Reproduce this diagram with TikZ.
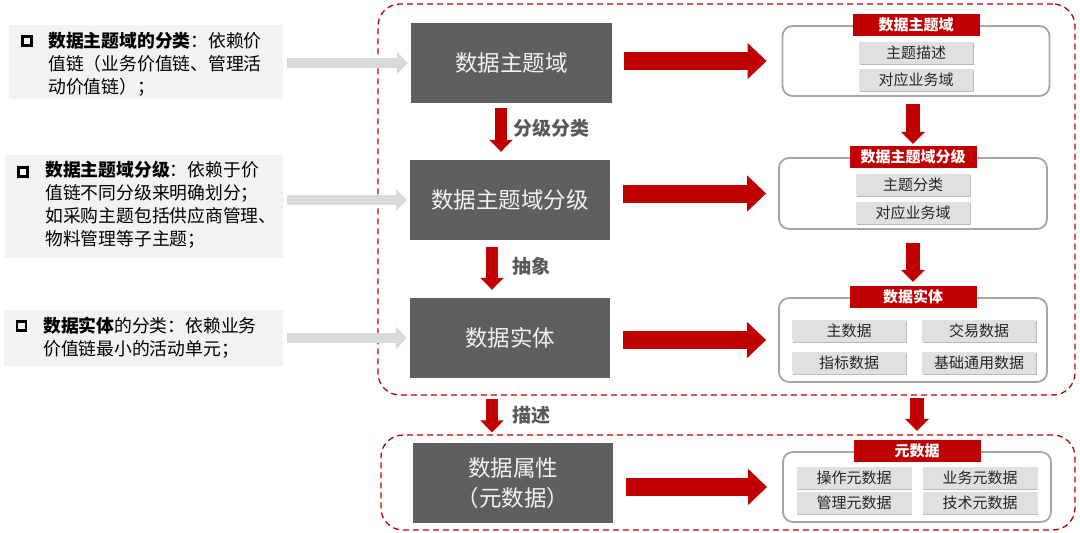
\documentclass[tikz,border=0pt]{standalone}
\usepackage{fontspec}
\setmainfont{Noto Sans CJK SC}
\usepackage{tikz}
\usetikzlibrary{arrows.meta, positioning, shadows}
\usepackage{xcolor}
\definecolor{mainred}{HTML}{C00000}
\definecolor{boxgray}{HTML}{5F5F5F}
\definecolor{labelgray}{HTML}{595959}
\definecolor{panelline}{HTML}{A6A6A6}
\definecolor{notefill}{HTML}{F2F2F2}
\definecolor{itemfill}{HTML}{E0E0E0}
\definecolor{arrowgray}{HTML}{D9D9D9}
\tikzset{%
	note box/.style={
		fill=notefill,
		inner sep=0pt
	},
	note text/.style={
		anchor=west,
		align=left,
		inner sep=0pt,
		font=\fontsize{17.8}{23}\selectfont
	},
	note bullet/.style={
		draw,
		line width=2.4pt,
		minimum size=9pt,
		inner sep=0pt
	},
	layer box/.style={
		fill=boxgray,
		minimum width=200pt,
		minimum height=80pt,
		align=center,
		text=white!95!black,
		font=\fontsize{22.5}{30}\selectfont
	},
	zone/.style={
		draw=mainred,
		line width=1.3pt,
		dash pattern=on 6pt off 4pt,
		rounded corners=22pt,
		inner sep=0pt
	},
	panel/.style={
		draw=panelline,
		line width=1.8pt,
		fill=white,
		rounded corners=10pt,
		minimum width=267pt
	},
	panel title/.style={
		fill=mainred,
		text=white,
		minimum width=127pt,
		minimum height=22pt,
		inner sep=0pt,
		font=\fontsize{15}{18}\selectfont\bfseries
	},
	item/.style={
		fill=itemfill,
		minimum width=114pt,
		minimum height=22pt,
		inner sep=0pt,
		text=black!85,
		font=\fontsize{15}{18}\selectfont,
		drop shadow={shadow xshift=0.8pt, shadow yshift=-1.5pt, fill=black!45, opacity=0.6}
	},
	gray arrow/.style={
		draw=arrowgray,
		line width=10pt,
		-{Triangle[length=11pt, width=22pt]}
	},
	red arrow/.style={
		draw=mainred,
		line width=18pt,
		-{Triangle[length=19pt, width=35pt]}
	},
	down arrow/.style={
		draw=mainred,
		line width=12pt,
		-{Triangle[length=12pt, width=23pt]}
	},
	step label/.style={
		anchor=west,
		inner sep=0pt,
		text=labelgray,
		font=\fontsize{19}{22}\selectfont\bfseries
	},
}

\begin{document}
\begin{tikzpicture}[x=1pt, y=-1pt]
	\useasboundingbox (0,0) rectangle (1080,533);
	
	% dashed zones
	\node[zone, minimum width=697pt, minimum height=391pt] (zone1) at (726.5,199.5) {};
	\node[zone, minimum width=694pt, minimum height=95pt] (zone2) at (728,482.5) {};
	
	% notes on the left
	\node[note box, minimum width=274pt, minimum height=74pt] (l1) at (146,62) {};
	\node[note box, minimum width=278pt, minimum height=103pt] (l2) at (144,206.5) {};
	\node[note box, minimum width=279pt, minimum height=56pt] (l3) at (143.5,338) {};
	\node[note bullet] (b1) at (27,41) {};
	\node[note bullet] (b2) at (23,172) {};
	\node[note bullet] (b3) at (21.5,326) {};
	\node[note text] (n1) at (48,64) {\textbf{数据主题域的分类}：依赖价\\值链（业务价值链、管理活\\动价值链）；};
	\node[note text] (n2) at (45,205) {\textbf{数据主题域分级}：依赖于价\\值链不同分级来明确划分；\\如采购主题包括供应商管理、\\物料管理等子主题；};
	\node[note text] (n3) at (43,338) {\textbf{数据实体}的分类：依赖业务\\价值链最小的活动单元；};
	
	% layers
	\node[layer box, minimum width=201pt] (d1) at (511.5,63) {数据主题域};
	\node[layer box] (d2) at (510,200) {数据主题域分级};
	\node[layer box] (d3) at (510,338) {数据实体};
	\node[layer box] (d4) at (513,483) {数据属性\\（元数据）};
	
	% panels on the right
	\node[panel, minimum height=70pt] (p1) at (916,61) {};
	\node[panel, minimum width=268pt, minimum height=71pt] (p2) at (913,193.5) {};
	\node[panel, minimum width=268pt, minimum height=84pt] (p3) at (913,340) {};
	\node[panel, minimum width=268pt, minimum height=70pt] (p4) at (917,487) {};
	\node[panel title] (t1) at (p1.north) {数据主题域};
	\node[panel title] (t2) at (p2.north) {数据主题域分级};
	\node[panel title] (t3) at (p3.north) {数据实体};
	\node[panel title] (t4) at (p4.north) {元数据};
	
	\node[item, below=5pt of t1] (s11) {主题描述};
	\node[item, below=5pt of s11] (s12) {对应业务域};
	\node[item, below=5pt of t2] (s21) {主题分类};
	\node[item, below=6pt of s21] (s22) {对应业务域};
	\node[item, below=11pt of t3, xshift=-64pt] (s31) {主数据};
	\node[item, below=11pt of t3, xshift=66pt] (s32) {交易数据};
	\node[item, below=10pt of s31] (s33) {指标数据};
	\node[item, below=10pt of s32] (s34) {基础通用数据};
	\node[item, minimum width=115pt, below=4pt of t4, xshift=-63pt] (s41) {操作元数据};
	\node[item, minimum width=115pt, below=4pt of t4, xshift=63pt] (s42) {业务元数据};
	\node[item, minimum width=115pt, below=3pt of s41] (s43) {管理元数据};
	\node[item, minimum width=115pt, below=3pt of s42] (s44) {技术元数据};
	
	% connectors
	\draw[gray arrow, shorten <=4pt, shorten >=3pt] (l1.east |- d1.west) -- (d1.west);
	\draw[gray arrow, shorten <=4pt, shorten >=3pt] (l2.east |- d2.west) -- (d2.west);
	\draw[gray arrow, shorten <=4pt, shorten >=3pt] (l3.east |- d3.west) -- (d3.west);
	
	\draw[red arrow, shorten <=12pt, shorten >=15pt] (d1.east |- p1.west) -- (p1.west);
	\draw[red arrow, shorten <=13pt, shorten >=12pt] (d2.east |- p2.west) -- (p2.west);
	\draw[red arrow, shorten <=13pt, shorten >=12pt] (d3.east |- p3.west) -- (p3.west);
	\draw[red arrow, shorten <=13pt, shorten >=15pt] (d4.east |- p4.west) -- (p4.west);
	
	\draw[down arrow, shorten <=5pt, shorten >=8pt] ([xshift=-10.5pt]d1.south) -- ([xshift=-10.5pt]d1.south |- d2.north);
	\draw[down arrow, shorten <=7pt, shorten >=8pt] ([xshift=-18pt]d2.south) -- ([xshift=-18pt]d2.south |- d3.north);
	\draw[down arrow, shorten <=3pt, shorten >=2pt] ([xshift=-18pt]d3.south |- zone1.south) -- ([xshift=-18pt]d3.south |- zone2.north);
	\node[step label] (c1) at (513,128) {分级分类};
	\node[step label] (c2) at (512,266) {抽象};
	\node[step label] (c3) at (512,415) {描述};
	
	\draw[down arrow, line width=14pt, shorten <=7pt, shorten >=2pt] (t2.north |- p1.south) -- (t2.north);
	\draw[down arrow, line width=14pt, shorten <=13pt, shorten >=4pt] (t3.north |- p2.south) -- (t3.north);
	\draw[down arrow, line width=14pt, shorten <=15pt, shorten >=9pt] (t4.north |- p3.south) -- (t4.north);
	
\end{tikzpicture}
\end{document}
